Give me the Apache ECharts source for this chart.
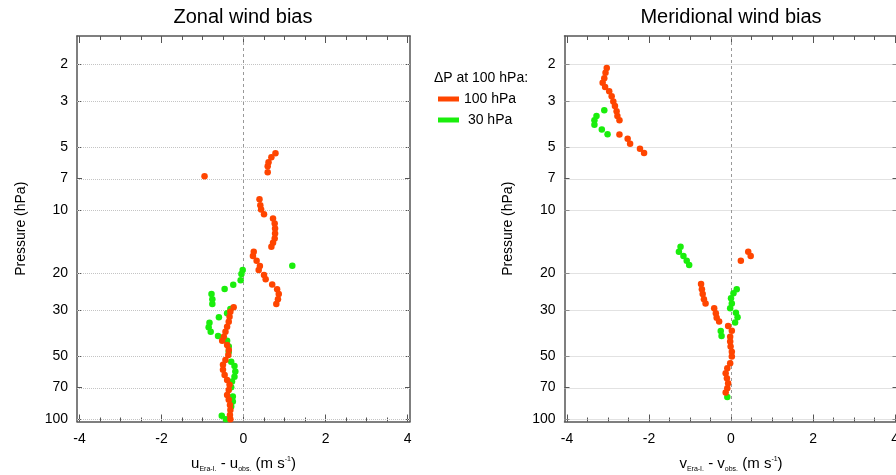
<!DOCTYPE html>
<html>
<head>
<meta charset="utf-8">
<title>Wind bias</title>
<script src="https://cdn.jsdelivr.net/npm/echarts@6/dist/echarts.min.js"></script>
<style>
  html, body { margin: 0; padding: 0; background: #fff; }
  #chart { width: 896px; height: 475px; }
</style>
</head>
<body>
<div id="chart"></div>
<script>
// axis ticks
const pressureTicks = [2, 3, 5, 7, 10, 20, 30, 50, 70, 100]
const biasLabels = [-4, -2, 0, 2, 4]
const biasMinorTicks = [-4, -3.5, -3, -2.5, -2, -1.5, -1, -0.5, 0, 0.5, 1, 1.5, 2, 2.5, 3, 3.5, 4]

// [bias (m/s), pressure (hPa)]
const zonalRed = [
  [0.78, 5.35], [0.68, 5.58], [0.61, 5.90], [0.59, 6.17], [0.59, 6.59],
  [-0.95, 6.88],
  [0.39, 8.86], [0.41, 9.46], [0.43, 9.92], [0.50, 10.45], [0.72, 10.95], [0.76, 11.57], [0.77, 12.23],
  [0.77, 12.92], [0.76, 13.65], [0.72, 14.33], [0.68, 14.97],
  [0.25, 15.82], [0.23, 16.58], [0.32, 17.46], [0.40, 18.50], [0.37, 19.33], [0.50, 20.42], [0.54, 21.42],
  [0.70, 22.64], [0.82, 23.9], [0.86, 25.18], [0.84, 26.67], [0.80, 28.1],
  [-0.24, 29.14], [-0.32, 30.58], [-0.34, 32.31], [-0.36, 34.14], [-0.40, 36.06], [-0.44, 38.1], [-0.48, 40.27],
  [-0.52, 42.07], [-0.40, 44.07], [-0.36, 46.56], [-0.37, 49.2], [-0.44, 52.0], [-0.50, 54.9], [-0.50, 58.0],
  [-0.46, 61.3], [-0.40, 64.8], [-0.34, 68.4], [-0.36, 72.3], [-0.40, 76.4], [-0.36, 80.7], [-0.33, 85.3],
  [-0.32, 90.1], [-0.33, 95.2], [-0.32, 100]
]
const zonalGreen = [
  [1.19, 18.45],
  [-0.02, 19.33], [-0.05, 20.2], [-0.07, 21.6], [-0.25, 22.7], [-0.46, 23.8], [-0.78, 25.18], [-0.76, 26.67], [-0.76, 28.1],
  [-0.32, 29.7], [-0.40, 31.1], [-0.60, 32.5], [-0.83, 34.5], [-0.85, 36.3], [-0.80, 38.1], [-0.62, 39.9],
  [-0.40, 42.07], [-0.36, 44.9], [-0.36, 47.5], [-0.30, 53.0], [-0.22, 55.6], [-0.20, 59.1], [-0.22, 62.5],
  [-0.28, 66.0], [-0.30, 70.2], [-0.26, 77.8], [-0.26, 82.2], [-0.30, 86.9], [-0.53, 96.2], [-0.43, 99.8]
]
const meridRed = [
  [-3.03, 2.09], [-3.06, 2.20], [-3.09, 2.34], [-3.13, 2.46], [-3.07, 2.58], [-2.97, 2.70], [-2.91, 2.85],
  [-2.87, 3.02], [-2.83, 3.18], [-2.79, 3.37], [-2.77, 3.55], [-2.72, 3.72], [-2.72, 4.35], [-2.52, 4.55],
  [-2.46, 4.81], [-2.22, 5.08], [-2.12, 5.33],
  [0.42, 15.82], [0.48, 16.58], [0.24, 17.46],
  [-0.73, 22.55], [-0.71, 23.9], [-0.69, 25.18], [-0.66, 26.67], [-0.62, 27.9], [-0.41, 29.45], [-0.37, 31.1],
  [-0.35, 32.7], [-0.29, 34.1], [-0.07, 35.8], [0.02, 37.7], [-0.02, 40.3], [-0.02, 42.5], [-0.01, 44.9],
  [0.02, 47.5], [0.02, 50.1], [-0.02, 54.0], [-0.09, 57.0], [-0.13, 60.2], [-0.10, 63.6], [-0.07, 67.2],
  [-0.09, 71.0], [-0.13, 74.5]
]
const meridGreen = [
  [-3.09, 3.33], [-3.28, 3.55], [-3.33, 3.72], [-3.33, 3.90], [-3.15, 4.11], [-3.01, 4.34],
  [-1.23, 14.97], [-1.27, 15.82], [-1.16, 16.58], [-1.08, 17.46], [-1.02, 18.3],
  [0.14, 23.9], [0.06, 24.98], [0.00, 26.4], [0.02, 27.9], [-0.02, 29.45], [0.12, 30.9], [0.16, 32.5],
  [0.10, 34.4], [-0.25, 37.8], [-0.23, 39.9], [-0.09, 78.3]
]

const RED = '#ff4500'
const GREEN = '#1aee0c'
const FRAME = '#555'
const FONT = 'Liberation Sans'

// the pressure axis is logarithmic: it works on log10(p)
const lg = v => Math.log10(v)
const toLog = arr => arr.map(d => [d[0], lg(d[1])])

const xAxisOf = (g, pos, ticks, len, withLine, withLabel, name) => ({
  type: 'value', gridIndex: g, position: pos, min: -4.06, max: 4.06,
  axisLine: { show: withLine, onZero: false, lineStyle: { color: FRAME, width: 1.5 } },
  axisTick: { show: true, inside: true, length: len, customValues: ticks, lineStyle: { color: FRAME, width: 1 } },
  axisLabel: withLabel
    ? { show: true, customValues: biasLabels, margin: 11, fontSize: 14, color: '#000', fontFamily: FONT }
    : { show: false },
  splitLine: { show: false },
  name: name || '',
  nameLocation: 'middle',
  nameGap: 34,
  nameMoveOverlap: false,
  nameTextStyle: {
    rich: {
      m: { fontSize: 15, fontFamily: FONT, color: '#000', lineHeight: 17 },
      s: { fontSize: 7, fontFamily: FONT, color: '#000', lineHeight: 8, verticalAlign: 'bottom' },
      p: { fontSize: 7, fontFamily: FONT, color: '#000', lineHeight: 8, verticalAlign: 'top' }
    }
  }
})

const yAxisOf = (g, pos, withLabel) => ({
  type: 'value', gridIndex: g, position: pos, inverse: true,
  min: lg(1.47), max: lg(102.4),
  axisLine: { show: true, onZero: false, lineStyle: { color: FRAME, width: 1.5 } },
  axisTick: { show: true, inside: true, length: 5, customValues: pressureTicks.map(lg), lineStyle: { color: FRAME, width: 1 } },
  axisLabel: withLabel
    ? {
        show: true, customValues: pressureTicks.map(lg), margin: 9, fontSize: 14, color: '#000', fontFamily: FONT,
        formatter: v => String(Math.round(Math.pow(10, v)))
      }
    : { show: false },
  splitLine: { show: false },
  name: withLabel ? 'Pressure (hPa)' : '',
  nameLocation: 'middle',
  nameGap: 49,
  nameMoveOverlap: false,
  nameTextStyle: { fontSize: 14, color: '#000', fontFamily: FONT }
})

const xName = v => `{m|${v}}{s|Era-I.}{m| - ${v}}{s|obs.}{m| (m s}{p|-1}{m|)}`

const xAxes = []
const yAxes = []
;[0, 1].forEach(g => {
  const v = g === 0 ? 'u' : 'v'
  xAxes.push(xAxisOf(g, 'bottom', biasMinorTicks, 4, true, true, xName(v)))
  xAxes.push(xAxisOf(g, 'bottom', biasLabels, 7, false, false))
  xAxes.push(xAxisOf(g, 'top', biasMinorTicks, 4, true, false))
  xAxes.push(xAxisOf(g, 'top', biasLabels, 7, false, false))
  yAxes.push(yAxisOf(g, 'left', true))
  yAxes.push(yAxisOf(g, 'right', false))
})

// dotted grid lines + dashed zero line, drawn under the dots
const guides = g => ({
  type: 'scatter', xAxisIndex: g * 4, yAxisIndex: g * 2, data: [], z: 1, silent: true,
  markLine: {
    z: 1, silent: true, symbol: 'none', animation: false,
    label: { show: false },
    lineStyle: { color: '#c4c4c4', type: 'dotted', width: 1 },
    data: [
      ...pressureTicks.map(p => ({ yAxis: lg(p) })),
      { xAxis: 0, lineStyle: { color: '#999', type: [3, 3], width: 1 } }
    ]
  }
})

const dots = (g, name, color, arr) => ({
  name, type: 'scatter', xAxisIndex: g * 4, yAxisIndex: g * 2, z: 3,
  symbol: 'circle', symbolSize: 6.5,
  itemStyle: { color, opacity: 1 },
  data: toLog(arr)
})

const myChart = echarts.init(document.getElementById('chart'))
myChart.setOption({
  backgroundColor: '#fff',
  animation: false,
  title: [
    { text: 'Zonal wind bias', left: 243, top: 7, padding: 0, textAlign: 'center',
      textStyle: { fontSize: 20, fontWeight: 'normal', color: '#000', fontFamily: FONT } },
    { text: 'Meridional wind bias', left: 731, top: 7, padding: 0, textAlign: 'center',
      textStyle: { fontSize: 20, fontWeight: 'normal', color: '#000', fontFamily: FONT } },
    { text: '\u0394P at 100 hPa:', left: 481, top: 71, padding: 0, textAlign: 'center',
      textStyle: { fontSize: 14, fontWeight: 'normal', color: '#000', fontFamily: FONT } }
  ],
  legend: {
    data: [{ name: '100 hPa', icon: 'rect' }, { name: '30 hPa', icon: 'rect' }],
    orient: 'vertical', left: 438, top: 92, padding: 0, itemGap: 7,
    itemWidth: 21, itemHeight: 5, selectedMode: false,
    formatter: n => (n === '30 hPa' ? ' 30 hPa' : n),
    textStyle: { fontSize: 14, color: '#000', fontFamily: FONT }
  },
  grid: [
    { left: 77, top: 36, width: 333, height: 385.5, outerBoundsMode: 'none' },
    { left: 564.5, top: 36, width: 333, height: 385.5, outerBoundsMode: 'none' }
  ],
  xAxis: xAxes,
  yAxis: yAxes,
  series: [
    guides(0), guides(1),
    dots(0, '30 hPa', GREEN, zonalGreen),
    dots(0, '100 hPa', RED, zonalRed),
    dots(1, '30 hPa', GREEN, meridGreen),
    dots(1, '100 hPa', RED, meridRed)
  ]
})
</script>
</body>
</html>
